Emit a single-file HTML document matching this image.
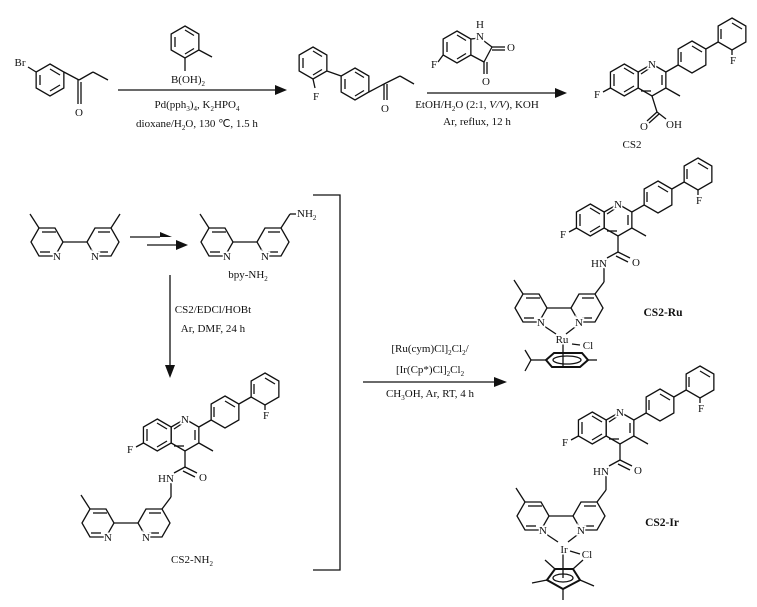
<!DOCTYPE html>
<html><head><meta charset="utf-8"><style>
html,body{margin:0;padding:0;background:#fff;width:757px;height:607px;overflow:hidden}
svg{display:block}
text{font-family:"Liberation Serif",serif;font-size:11px;fill:#111}
.l{stroke:#111;stroke-width:1.3;fill:none}
.h{stroke:#fff;stroke-width:3;paint-order:stroke}
.b{font-weight:bold;font-size:11.5px}
</style></head><body>
<svg width="757" height="607" viewBox="0 0 757 607" xmlns="http://www.w3.org/2000/svg">
<defs>
<polygon id="hp" points="0,-16 13.86,-8 13.86,8 0,16 -13.86,8 -13.86,-8" class="l"/>
<polygon id="hf" points="-16,0 -8,-14 8,-14 16,0 8,14 -8,14" class="l"/>
<g id="ar" class="l">
 <line x1="-10" y1="-5" x2="-10" y2="5"/><line x1="0" y1="-12" x2="9" y2="-6.5"/><line x1="0" y1="12" x2="9" y2="6.5"/>
</g>
<g id="core" class="l">
 <use href="#hp" x="620" y="428"/><use href="#hp" x="592.3" y="428"/>
 <use href="#hp" x="660" y="405"/><use href="#hp" x="700" y="382"/>
 <line x1="609" y1="422" x2="618" y2="416"/><line x1="630" y1="423" x2="630" y2="433"/><line x1="609" y1="439" x2="619" y2="439"/>
 <line x1="582" y1="422" x2="582" y2="434"/><line x1="592" y1="416" x2="602" y2="422"/><line x1="592" y1="440" x2="602" y2="434"/>
 <line x1="649" y1="400" x2="649" y2="410"/><line x1="660" y1="394" x2="670" y2="400"/>
 <line x1="689" y1="377" x2="689" y2="387"/><line x1="700" y1="371" x2="710" y2="377"/>
 <line x1="633.9" y1="420" x2="646.1" y2="413"/><line x1="673.9" y1="397" x2="686.1" y2="390"/>
 <line x1="633.9" y1="436" x2="648" y2="444"/><line x1="578.4" y1="436" x2="571" y2="440"/>
 <line x1="700" y1="398" x2="700" y2="403"/>
</g>
<g id="amide" class="l">
 <line x1="620" y1="444" x2="620" y2="460"/><line x1="620" y1="460" x2="632" y2="466"/><line x1="618" y1="464" x2="630" y2="470"/>
 <line x1="620" y1="460" x2="609" y2="466"/><line x1="606" y1="476" x2="606" y2="490"/><line x1="606" y1="490" x2="597" y2="502"/>
</g>
<g id="bipy" class="l">
 <use href="#hf" x="533" y="516"/><use href="#hf" x="589" y="516"/>
 <line x1="549" y1="516" x2="573" y2="516"/><line x1="525" y1="502" x2="516" y2="488"/>
 <line x1="526" y1="526" x2="536" y2="526"/><line x1="542" y1="506" x2="528" y2="506"/>
 <line x1="584" y1="526" x2="594" y2="526"/><line x1="584" y1="506" x2="596" y2="506"/>
</g>
</defs>

<!-- Top row -->
<g class="l">
 <use href="#hp" x="50" y="80"/>
 <line x1="40" y1="75" x2="40" y2="85"/><line x1="50" y1="69" x2="60" y2="75"/><line x1="50" y1="91" x2="60" y2="85"/>
 <line x1="36.1" y1="72" x2="28" y2="67"/>
 <line x1="63.9" y1="72" x2="79" y2="80"/><line x1="79" y1="80" x2="93" y2="72"/><line x1="93" y1="72" x2="108" y2="80"/>
 <line x1="78" y1="80" x2="78" y2="104"/><line x1="81" y1="82" x2="81" y2="104"/>
 <line x1="118" y1="90" x2="275" y2="90"/>
 <use href="#hp" x="185" y="42"/><use href="#ar" x="185" y="42"/>
 <line x1="198.9" y1="50" x2="212" y2="57"/><line x1="185" y1="58" x2="185" y2="71"/>
 <use href="#hp" x="313" y="63"/><use href="#hp" x="355" y="84"/>
 <use href="#ar" x="313" y="63"/><use href="#ar" x="355" y="84"/>
 <line x1="326.9" y1="71" x2="341.1" y2="76"/><line x1="313" y1="79" x2="315" y2="88"/>
 <line x1="368.9" y1="92" x2="384" y2="84"/><line x1="384" y1="84" x2="384" y2="100"/><line x1="387" y1="84" x2="387" y2="100"/>
 <line x1="384" y1="84" x2="400" y2="76"/><line x1="400" y1="76" x2="414" y2="84"/>
 <line x1="427" y1="93" x2="555" y2="93"/>
 <use href="#hp" x="457" y="47"/><use href="#ar" x="457" y="47"/>
 <line x1="470.9" y1="39" x2="480" y2="38"/><line x1="480" y1="38" x2="492" y2="47"/><line x1="492" y1="47" x2="484" y2="62"/><line x1="484" y1="62" x2="470.9" y2="55"/>
 <line x1="492" y1="47" x2="505" y2="47"/><line x1="492" y1="50" x2="505" y2="50"/>
 <line x1="484" y1="62" x2="484" y2="74"/><line x1="487" y1="62" x2="487" y2="74"/>
 <line x1="443.1" y1="55" x2="438" y2="62"/>
</g>
<polygon points="275,85 287,90 275,95" fill="#111"/>
<polygon points="555,88 567,93 555,98" fill="#111"/>
<text x="20" y="66" class="h" text-anchor="middle">Br</text>
<text x="79" y="116" text-anchor="middle">O</text>
<text x="188" y="83" text-anchor="middle">B(OH)<tspan font-size="7" dy="3">2</tspan></text>
<text x="197" y="108" text-anchor="middle">Pd(pph<tspan font-size="7" dy="3">3</tspan><tspan dy="-3">)</tspan><tspan font-size="7" dy="3">4</tspan><tspan dy="-3">, K</tspan><tspan font-size="7" dy="3">2</tspan><tspan dy="-3">HPO</tspan><tspan font-size="7" dy="3">4</tspan></text>
<text x="197" y="127" text-anchor="middle">dioxane/H<tspan font-size="7" dy="3">2</tspan><tspan dy="-3">O, 130 ℃, 1.5 h</tspan></text>
<text x="316" y="100" class="h" text-anchor="middle">F</text>
<text x="385" y="112" text-anchor="middle">O</text>
<text x="480" y="28" text-anchor="middle">H</text>
<text x="480" y="40" class="h" text-anchor="middle">N</text>
<text x="511" y="51" text-anchor="middle">O</text>
<text x="486" y="85" text-anchor="middle">O</text>
<text x="434" y="68" text-anchor="middle">F</text>
<text x="477" y="108" text-anchor="middle">EtOH/H<tspan font-size="7" dy="3">2</tspan><tspan dy="-3">O (2:1, </tspan><tspan font-style="italic">V/V</tspan>), KOH</text>
<text x="477" y="125" text-anchor="middle">Ar, reflux, 12 h</text>

<!-- CS2 top -->
<g transform="translate(32,-348)">
 <use href="#core"/>
 <g class="l"><line x1="620" y1="444" x2="625" y2="460"/><line x1="625" y1="460" x2="615" y2="469"/><line x1="627" y1="462" x2="617" y2="471"/><line x1="625" y1="460" x2="634" y2="467"/></g>
 <text x="620" y="416" class="h" text-anchor="middle">N</text>
 <text x="565" y="446" class="h" text-anchor="middle">F</text>
 <text x="701" y="412" class="h" text-anchor="middle">F</text>
 <text x="612" y="478" text-anchor="middle">O</text>
 <text x="642" y="476" text-anchor="middle">OH</text>
 <text x="600" y="496" text-anchor="middle">CS2</text>
</g>

<!-- bpy -->
<g transform="translate(-486,-274)">
 <use href="#bipy"/>
 <line class="l" x1="597" y1="502" x2="606" y2="488"/>
 <text x="543" y="534" class="h" text-anchor="middle">N</text>
 <text x="581" y="534" class="h" text-anchor="middle">N</text>
</g>
<g class="l"><line x1="130" y1="237" x2="160" y2="237"/><line x1="147" y1="245" x2="176" y2="245"/></g>
<polygon points="160,232 172,237 160,237" fill="#111"/>
<polygon points="176,240 188,245 176,250" fill="#111"/>
<g transform="translate(-316,-274)">
 <use href="#bipy"/>
 <g class="l"><line x1="597" y1="502" x2="606" y2="488"/><line x1="606" y1="488" x2="612" y2="488"/></g>
 <text x="543" y="534" class="h" text-anchor="middle">N</text>
 <text x="581" y="534" class="h" text-anchor="middle">N</text>
 <text x="613" y="491">NH<tspan font-size="7" dy="3">2</tspan></text>
</g>
<text x="248" y="278" text-anchor="middle">bpy-NH<tspan font-size="7" dy="3">2</tspan></text>
<line class="l" x1="170" y1="275" x2="170" y2="366"/>
<polygon points="165,365 170,378 175,365" fill="#111"/>
<text x="213" y="313" text-anchor="middle">CS2/EDCl/HOBt</text>
<text x="213" y="332" text-anchor="middle">Ar, DMF, 24 h</text>

<!-- CS2-NH2 -->
<g transform="translate(-435,7)">
 <use href="#core"/><use href="#amide"/><use href="#bipy"/>
 <text x="620" y="416" class="h" text-anchor="middle">N</text>
 <text x="565" y="446" class="h" text-anchor="middle">F</text>
 <text x="701" y="412" class="h" text-anchor="middle">F</text>
 <text x="638" y="474" text-anchor="middle">O</text>
 <text x="601" y="475" class="h" text-anchor="middle">HN</text>
 <text x="543" y="534" class="h" text-anchor="middle">N</text>
 <text x="581" y="534" class="h" text-anchor="middle">N</text>
</g>
<text x="192" y="563" text-anchor="middle">CS2-NH<tspan font-size="7" dy="3">2</tspan></text>

<!-- bracket & arrow -->
<polyline class="l" points="313,195 340,195 340,570 313,570"/>
<line class="l" x1="363" y1="382" x2="496" y2="382"/>
<polygon points="494,377 507,382 494,387" fill="#111"/>
<text x="430" y="352" text-anchor="middle">[Ru(cym)Cl]<tspan font-size="7" dy="3">2</tspan><tspan dy="-3">Cl</tspan><tspan font-size="7" dy="3">2</tspan><tspan dy="-3">/</tspan></text>
<text x="430" y="373" text-anchor="middle">[Ir(Cp*)Cl]<tspan font-size="7" dy="3">2</tspan><tspan dy="-3">Cl</tspan><tspan font-size="7" dy="3">2</tspan></text>
<text x="430" y="397" text-anchor="middle">CH<tspan font-size="7" dy="3">3</tspan><tspan dy="-3">OH, Ar, RT, 4 h</tspan></text>

<!-- CS2-Ru -->
<g transform="translate(-2,-208)">
 <use href="#core"/><use href="#amide"/><use href="#bipy"/>
 <g class="l"><line x1="543" y1="532" x2="558" y2="542"/><line x1="581" y1="532" x2="568" y2="542"/>
 <line x1="574" y1="552" x2="582" y2="553"/><line x1="565" y1="552" x2="565" y2="575"/>
 <polygon points="548,568 556,561 584,561 590,568 582,575 554,575" stroke-width="2"/>
 <ellipse cx="569" cy="568" rx="14" ry="4"/>
 <line x1="548" y1="568" x2="533" y2="568"/><line x1="533" y1="568" x2="527" y2="558"/><line x1="533" y1="568" x2="527" y2="579"/>
 <line x1="590" y1="568" x2="599" y2="568"/></g>
 <text x="620" y="416" class="h" text-anchor="middle">N</text>
 <text x="565" y="446" class="h" text-anchor="middle">F</text>
 <text x="701" y="412" class="h" text-anchor="middle">F</text>
 <text x="638" y="474" text-anchor="middle">O</text>
 <text x="601" y="475" class="h" text-anchor="middle">HN</text>
 <text x="543" y="534" class="h" text-anchor="middle">N</text>
 <text x="581" y="534" class="h" text-anchor="middle">N</text>
 <text x="564" y="551" class="h" text-anchor="middle">Ru</text>
 <text x="590" y="557" text-anchor="middle">Cl</text>
</g>
<text x="663" y="316" class="b" text-anchor="middle">CS2-Ru</text>

<!-- CS2-Ir -->
<g>
 <use href="#core"/><use href="#amide"/><use href="#bipy"/>
 <g class="l"><line x1="543" y1="532" x2="558" y2="542"/><line x1="581" y1="532" x2="568" y2="542"/>
 <line x1="570" y1="551" x2="580" y2="554"/><line x1="563" y1="552" x2="563" y2="578"/>
 <polygon points="547,580 555,569 573,569 580,580 563,589" stroke-width="2"/>
 <ellipse cx="563" cy="578" rx="10" ry="4"/>
 <line x1="547" y1="580" x2="532" y2="583"/><line x1="555" y1="569" x2="545" y2="560"/><line x1="573" y1="569" x2="583" y2="560"/>
 <line x1="580" y1="580" x2="594" y2="586"/><line x1="563" y1="589" x2="563" y2="600"/></g>
 <text x="620" y="416" class="h" text-anchor="middle">N</text>
 <text x="565" y="446" class="h" text-anchor="middle">F</text>
 <text x="701" y="412" class="h" text-anchor="middle">F</text>
 <text x="638" y="474" text-anchor="middle">O</text>
 <text x="601" y="475" class="h" text-anchor="middle">HN</text>
 <text x="543" y="534" class="h" text-anchor="middle">N</text>
 <text x="581" y="534" class="h" text-anchor="middle">N</text>
 <text x="564" y="553" class="h" text-anchor="middle">Ir</text>
 <text x="587" y="558" text-anchor="middle">Cl</text>
</g>
<text x="662" y="526" class="b" text-anchor="middle">CS2-Ir</text>
</svg>
</body></html>
